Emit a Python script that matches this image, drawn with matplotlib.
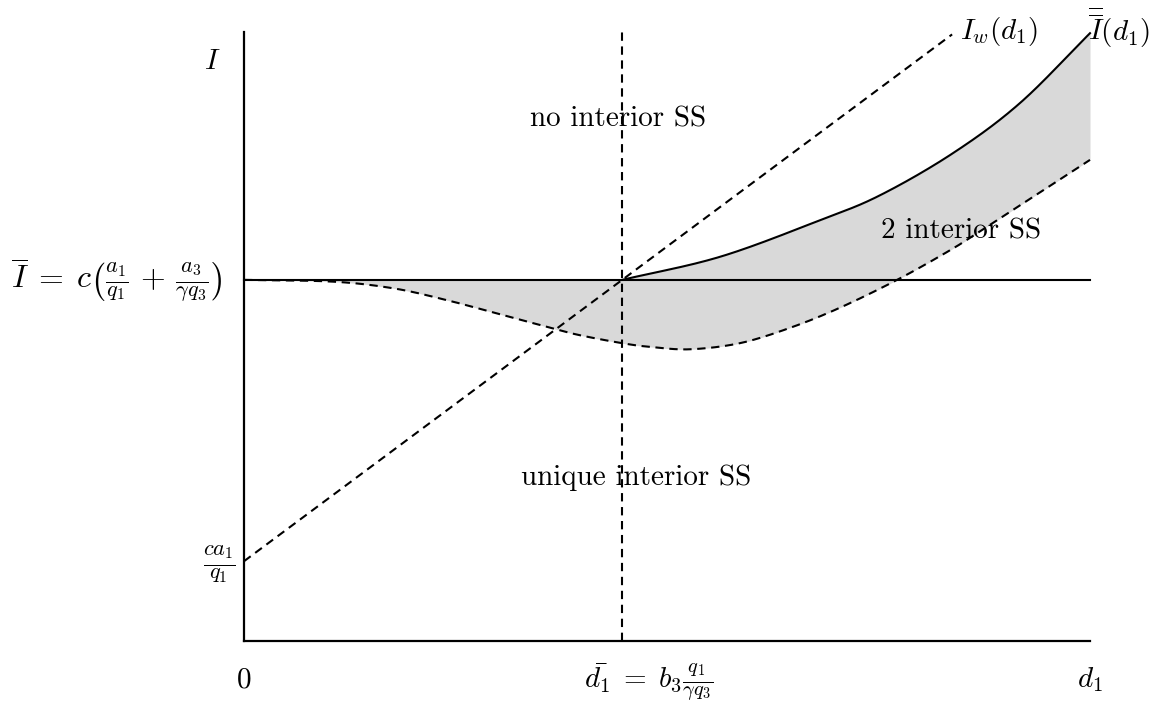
import numpy as np
import matplotlib
matplotlib.use('Agg')
import matplotlib.pyplot as plt

plt.rcParams['mathtext.fontset'] = 'cm'
plt.rcParams['font.family'] = 'serif'
plt.rcParams['font.serif'] = ['cmr10', 'DejaVu Serif']

#%% values (x: d1 scaled 0..1, y: I scaled 0..1)
d1_bar = 0.447
I_bar = 0.593
I_w_x = [0.0, 0.837]
I_w_y = [0.131, 0.996]

# lower dashed curve
low_x = [0.0, 0.106, 0.177, 0.236, 0.296, 0.355, 0.394, 0.447, 0.480, 0.527,
         0.586, 0.645, 0.704, 0.772, 0.835, 0.878, 1.0]
low_y = [0.593, 0.590, 0.579, 0.561, 0.539, 0.517, 0.503, 0.489, 0.483, 0.479,
         0.489, 0.514, 0.547, 0.593, 0.642, 0.680, 0.790]

# upper solid curve, double-bar I(d1)
up_x = [0.447, 0.563, 0.681, 0.752, 0.838, 0.917, 1.0]
up_y = [0.593, 0.631, 0.691, 0.732, 0.801, 0.883, 0.998]


def smooth(x, y, n=400):
    # Catmull-Rom through the read points, just to draw a smooth line
    x = np.asarray(x, float); y = np.asarray(y, float)
    px = np.concatenate([[2*x[0]-x[1]], x, [2*x[-1]-x[-2]]])
    py = np.concatenate([[2*y[0]-y[1]], y, [2*y[-1]-y[-2]]])
    ox, oy = [], []
    for i in range(1, len(px)-2):
        t = np.linspace(0, 1, n//(len(x)-1), endpoint=False)
        for p, o in ((px, ox), (py, oy)):
            p0, p1, p2, p3 = p[i-1], p[i], p[i+1], p[i+2]
            o.extend(0.5*(2*p1 + (-p0+p2)*t + (2*p0-5*p1+4*p2-p3)*t**2
                          + (-p0+3*p1-3*p2+p3)*t**3))
    ox.append(x[-1]); oy.append(y[-1])
    return np.array(ox), np.array(oy)


lx, ly = smooth(low_x, low_y)
ux, uy = smooth(up_x, up_y)

#%%
fig = plt.figure(figsize=(11.62, 7.11), dpi=100)
ax = fig.add_axes([0, 0, 1, 1])
ax.set_xlim(-0.2884, 1.0851)
ax.set_ylim(-0.1149, 1.0525)
ax.axis('off')

ls = (0, (4, 2.7))
lw = 1.5

# shaded regions
xs = np.linspace(0, 1, 800)
lo = np.interp(xs, lx, ly)
hi = np.where(xs <= d1_bar, I_bar, np.interp(xs, ux, uy))
ax.fill_between(xs, lo, hi, color='#d9d9d9', lw=0, zorder=1)

# axes
ax.plot([0, 0], [0, 1.0], color='black', lw=1.6, zorder=3)
ax.plot([0, 1.0], [0, 0], color='black', lw=1.6, zorder=3)

ax.plot([0, 1.0], [I_bar, I_bar], color='black', lw=lw, zorder=3)
ax.plot([d1_bar, d1_bar], [0, 1.0], color='black', lw=lw, ls=ls, zorder=3)
ax.plot(I_w_x, I_w_y, color='black', lw=lw, ls=ls, zorder=3)
ax.plot(lx, ly, color='black', lw=lw, ls=ls, zorder=3)
ax.plot(ux, uy, color='black', lw=lw, zorder=3)

fs = 21
ax.text(-0.038, 0.951, r'$I$', fontsize=fs, ha='center', va='center')
ax.text(-0.026, 0.593,
        r'$\overline{I}\;=\;c\left(\frac{a_1}{q_1}\,+\,\frac{a_3}{\gamma q_3}\right)$',
        fontsize=23, ha='right', va='center')
ax.text(-0.029, 0.126, r'$\frac{ca_1}{q_1}$', fontsize=23, ha='center', va='center')
ax.text(0.0, -0.064, r'$0$', fontsize=fs, ha='center', va='center')
ax.text(0.478, -0.069, r'$\bar{d_1}\;=\;b_3\frac{q_1}{\gamma q_3}$', fontsize=fs,
        ha='center', va='center')
ax.text(1.0, -0.064, r'$d_1$', fontsize=fs, ha='center', va='center')
ax.text(0.442, 0.856, 'no interior SS', fontsize=fs, ha='center', va='center')
ax.text(0.463, 0.268, 'unique interior SS', fontsize=fs, ha='center', va='center')
ax.text(0.848, 0.672, '2 interior SS', fontsize=fs, ha='center', va='center')
ax.text(0.846, 1.0, r'$I_w(d_1)$', fontsize=fs, ha='left', va='center')
ax.text(0.998, 1.008, r'$\overline{\overline{I}}(d_1)$', fontsize=fs, ha='left', va='center')

fig.savefig('out.png', dpi=100)
